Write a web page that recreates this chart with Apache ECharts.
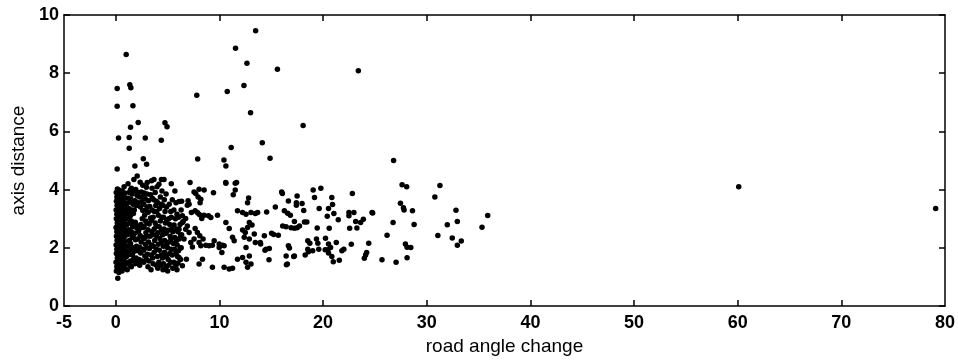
<!DOCTYPE html>
<html>
<head>
<meta charset="utf-8">
<script src="https://cdn.jsdelivr.net/npm/echarts@6/dist/echarts.min.js"></script>
<style>html,body{margin:0;padding:0;background:#fff;}#c{width:958px;height:361px;}</style>
</head>
<body>
<div id="c"></div>
<script>
// x tick labels / tick marks
const xTickLabels = [-5, 0, 10, 20, 30, 40, 50, 60, 70, 80];
const xTickMarks = [0, 10, 20, 30, 40, 50, 60, 70];
const yTicks = [0, 2, 4, 6, 8, 10];

// dense core: road angle change 0..6.5
const coreCluster = [
[0.05,1.2],[0.1,1.35],[0.02,1.5],[0.15,1.65],[0.05,1.8],[0.1,1.95],[0.03,2.1],[0.12,2.25],[0.06,2.4],[0.1,2.55],[0.02,2.7],[0.14,2.85],[0.05,3.0],[0.1,3.15],[0.03,3.3],[0.12,3.45],[0.06,3.6],[0.1,3.75],[0.04,3.9],[0.15,4.02],
[0.3,1.15],[0.35,1.3],[0.25,1.45],[0.4,1.6],[0.3,1.75],[0.38,1.9],[0.28,2.05],[0.42,2.2],[0.3,2.35],[0.36,2.5],[0.27,2.65],[0.4,2.8],[0.32,2.95],[0.37,3.1],[0.26,3.25],[0.41,3.4],[0.3,3.55],[0.35,3.7],[0.28,3.85],[0.33,3.98],[0.19,0.95],
[0.6,1.2],[0.55,1.4],[0.65,1.55],[0.58,1.7],[0.62,1.85],[0.55,2.0],[0.68,2.15],[0.6,2.3],[0.52,2.45],[0.66,2.6],[0.58,2.75],[0.63,2.9],[0.55,3.05],[0.67,3.2],[0.6,3.35],[0.54,3.5],[0.65,3.65],[0.58,3.8],[0.62,3.95],
[0.85,1.3],[0.9,1.45],[0.8,1.62],[0.92,1.78],[0.85,1.92],[0.78,2.08],[0.9,2.22],[0.83,2.38],[0.95,2.52],[0.8,2.68],[0.88,2.82],[0.93,2.98],[0.82,3.12],[0.9,3.28],[0.85,3.42],[0.78,3.58],[0.92,3.72],[0.86,3.88],[0.8,4.1],
[1.1,1.25],[1.2,1.5],[1.05,1.7],[1.25,1.88],[1.15,2.05],[1.3,2.25],[1.1,2.45],[1.22,2.62],[1.08,2.8],[1.28,2.98],[1.15,3.15],[1.25,3.35],[1.1,3.52],[1.2,3.7],[1.3,3.9],[1.18,4.2],
[1.5,1.35],[1.45,1.55],[1.6,1.75],[1.52,1.95],[1.42,2.15],[1.58,2.35],[1.48,2.55],[1.62,2.72],[1.5,2.92],[1.4,3.1],[1.55,3.3],[1.65,3.5],[1.45,3.68],[1.58,3.85],[1.5,4.05],[1.74,4.35],
[1.85,1.45],[1.95,1.65],[1.8,1.88],[2.0,2.05],[1.9,2.28],[1.82,2.5],[2.02,2.68],[1.88,2.88],[1.78,3.3],[1.98,3.45],[1.85,3.62],[2.05,3.8],[1.92,4.0],[2.06,4.47],
[2.3,1.4],[2.25,1.6],[2.4,1.82],[2.3,2.02],[2.45,2.2],[2.35,2.42],[2.22,2.62],[2.42,2.8],[2.55,3.0],[2.38,3.4],[2.5,3.58],[2.3,3.75],[2.45,3.92],[2.6,4.15],[2.35,4.25],
[2.7,1.5],[2.8,1.72],[2.68,1.92],[2.85,2.12],[2.75,2.32],[2.9,2.52],[2.72,2.72],[2.88,2.92],[2.78,3.12],[2.92,3.3],[2.7,3.5],[2.85,3.68],[2.75,3.88],[2.95,4.08],
[3.1,1.35],[3.2,1.55],[3.05,1.78],[3.25,1.98],[3.15,2.2],[3.3,2.4],[3.1,2.62],[3.22,2.82],[3.35,3.02],[3.12,3.22],[3.28,3.42],[3.15,3.62],[3.35,3.82],[3.03,4.24],[3.45,4.3],
[3.6,1.45],[3.55,1.65],[3.7,1.85],[3.62,2.05],[3.75,2.25],[3.58,2.45],[3.7,2.65],[3.8,2.85],[3.6,3.05],[3.72,3.25],[3.85,3.45],[3.65,3.65],[3.8,3.9],[3.68,4.35],
[4.05,1.3],[4.15,1.5],[4.0,1.7],[4.2,1.92],[4.1,2.12],[4.25,2.32],[4.05,2.52],[4.18,2.72],[4.3,2.92],[4.1,3.12],[4.22,3.35],[4.05,3.55],[4.3,3.75],[4.16,4.18],[4.4,4.35],
[4.55,1.25],[4.6,1.45],[4.5,1.65],[4.7,1.85],[4.58,2.05],[4.72,2.25],[4.52,2.45],[4.65,2.65],[4.78,2.85],[4.6,3.05],[4.75,3.25],[4.55,3.45],[4.68,3.65],[4.85,3.85],[4.65,4.35],
[5.0,1.2],[5.1,1.4],[5.05,1.6],[5.2,1.8],[5.0,2.0],[5.15,2.2],[5.25,2.4],[5.05,2.6],[5.2,2.8],[5.1,3.0],[5.3,3.25],[5.15,3.5],[5.35,4.2],
[5.5,1.3],[5.6,1.5],[5.45,1.75],[5.65,1.95],[5.55,2.15],[5.7,2.35],[5.5,2.55],[5.62,2.78],[5.75,3.0],[5.6,3.3],[5.8,3.55],[5.7,3.95],
[5.9,1.25],[6.0,1.48],[5.95,1.7],[6.05,1.9],[5.92,2.1],[6.1,2.3],[5.98,2.55],[6.2,2.8],[6.05,3.05],[6.3,3.3],[6.35,3.6]
];

// extra fill within the dense core
const coreFill = [
[1.35,1.4],[1.32,1.78],[1.38,2.12],[1.35,2.5],[1.36,2.85],[1.32,3.22],[1.38,3.6],[1.4,3.98],
[1.7,1.6],[1.72,2.0],[1.68,2.42],[1.75,2.8],[1.7,3.18],[1.72,3.55],[1.68,3.95],
[2.12,1.5],[2.15,1.9],[2.1,2.3],[2.18,2.55],[2.15,3.55],[2.12,3.9],[2.15,2.75],
[2.55,1.55],[2.6,1.95],[2.58,2.35],[2.62,2.7],[2.6,3.28],[2.58,3.75],
[2.98,1.6],[3.0,2.0],[2.98,2.4],[3.0,2.85],[3.02,3.4],[3.0,3.85],
[3.4,1.25],[3.42,1.75],[3.45,2.1],[3.48,2.55],[3.45,2.95],[3.5,3.3],[3.52,3.7],[3.5,4.05],
[3.9,1.4],[3.92,1.95],[3.95,2.4],[3.9,2.75],[3.95,3.25],[3.92,3.6],[3.98,4.1],
[4.35,1.4],[4.38,1.75],[4.4,2.2],[4.42,2.6],[4.45,3.05],[4.4,3.5],[4.45,3.95],
[4.85,1.35],[4.88,1.7],[4.9,2.1],[4.85,2.5],[4.92,2.95],[4.9,3.4],
[5.3,1.5],[5.35,1.95],[5.32,2.3],[5.4,2.65],[5.35,3.05],[5.45,3.65],
[5.8,1.4],[5.82,1.85],[5.85,2.25],[5.88,2.65],[5.9,3.15],
[6.25,1.6],[6.3,2.0],[6.35,2.45],[6.5,2.9]
];

// sparser band: road angle change 6..16
const midCluster = [
[7.16,4.24],[7.55,3.92],[7.71,3.87],[8.03,4.01],[8.52,3.99],[9.42,3.89],[10.62,4.22],[11.52,4.22],[11.33,3.82],[11.52,3.99],[12.81,3.71],[12.71,3.55],
[6.1,3.59],[6.97,3.62],[7.07,3.5],[6.9,3.46],[7.94,3.75],[8.2,3.67],[8.13,3.55],
[7.29,3.21],[7.65,3.27],[7.87,3.21],[8.03,3.15],[8.23,3.1],[8.29,3.01],[8.52,3.12],[8.94,3.1],[9.17,3.04],[9.81,3.12],[11.74,3.27],
[12.23,3.21],[12.56,3.15],[13.04,3.21],[13.46,3.18],[12.88,2.87],[13.14,2.78],[12.71,2.7],[10.62,2.87],[10.94,2.66],[12.23,2.61],[12.49,2.53],
[6.42,3.1],[6.74,3.01],[6.42,2.87],[6.9,2.75],[6.74,2.64],[7.07,2.53],[7.65,2.66],[7.87,2.53],[8.1,2.41],[8.42,2.3],[8.03,2.18],[8.68,2.09],[9.0,2.07],[9.32,2.09],
[9.97,2.13],[10.29,2.09],[9.49,2.24],[11.26,2.36],[11.42,2.24],[12.39,2.36],[12.88,2.3],[13.46,2.18],[6.26,2.41],[6.58,2.3],[7.23,2.18],[7.55,2.3],[6.1,2.64],
[6.26,1.99],[7.39,2.03],[8.2,2.07],[9.97,2.01],[10.23,1.84],[10.45,2.07],[12.56,2.01],[12.88,1.72],[6.1,1.67],[6.81,1.61],[6.42,1.38],[8.36,1.61],[8.03,1.44],
[9.32,1.33],[10.45,1.33],[10.94,1.27],[11.26,1.3],[11.74,1.61],[12.23,1.67],[12.56,1.5],[12.71,1.33],[13.04,1.44],
[13.68,3.21],[14.55,3.23],[15.39,3.4],[13.36,2.47],[14.33,2.41],[15.03,2.5],[15.23,2.46],[15.68,2.43],[13.94,2.18],[13.97,2.13],[14.81,1.98],[14.39,1.92],
[14.78,1.59],[14.49,1.95],[10.6,4.24],[11.65,4.24]
];

// outer band: road angle change 16..36
const farCluster = [
[16.0,3.92],[16.07,3.87],[16.65,3.61],[17.49,3.78],[17.42,3.55],[17.42,3.46],[17.97,3.52],[18.13,3.28],[18.2,2.89],[18.43,2.89],
[19.04,3.99],[19.78,4.05],[19.17,3.73],[20.84,3.73],[20.91,3.49],[20.52,3.35],[21.04,3.18],[19.62,3.35],[20.4,3.08],[21.46,2.96],
[22.82,3.87],[22.49,3.21],[22.49,3.1],[22.97,3.21],[23.14,2.9],[23.62,2.87],[23.88,2.98],[22.56,2.67],[23.26,2.68],[24.72,3.21],
[16.26,3.27],[16.58,3.19],[16.84,3.12],[16.1,2.75],[16.43,2.72],[16.91,2.69],[17.23,2.67],[17.49,2.69],[17.72,2.75],[17.23,2.9],
[19.43,2.68],[20.59,2.67],[16.65,2.07],[16.75,1.99],[17.16,1.7],[16.46,1.42],[18.52,2.24],[18.72,2.16],[19.36,2.3],[19.49,2.16],
[18.52,1.95],[19.0,1.9],[18.59,1.86],[18.27,1.75],[19.58,1.95],[20.23,2.33],[20.52,2.13],[20.72,2.01],[20.2,1.93],[20.46,1.93],
[20.84,1.7],[20.98,1.52],[21.56,1.57],[21.27,2.18],[21.81,1.9],[22.0,1.95],[22.72,2.12],[20.52,1.82],[24.1,1.75],[24.2,1.84],
[24.4,2.16],[23.98,1.64],[16.43,1.72],[16.55,1.44],[17.23,1.72],
[27.62,4.17],[28.06,4.1],[31.27,4.14],[30.78,3.75],[27.46,3.53],[27.75,3.38],[27.81,3.3],[28.62,3.27],[24.78,3.2],[26.75,2.87],
[28.78,2.8],[32.82,3.29],[32.95,2.9],[31.98,2.79],[35.88,3.11],[35.33,2.71],[26.17,2.43],[31.07,2.42],[32.46,2.34],[33.33,2.23],
[32.95,2.09],[27.94,2.13],[28.1,2.02],[28.46,2.01],[28.1,1.66],[25.68,1.59],[27.04,1.5]
];

// isolated high / far points
const outliers = [
[1.0,8.64],[0.13,7.47],[1.35,7.6],[1.45,7.5],[0.13,6.86],[1.65,6.88],[1.42,6.14],[2.16,6.31],[4.74,6.3],[4.94,6.16],
[0.26,5.77],[1.29,5.79],[2.84,5.77],[4.39,5.7],[1.29,5.42],[2.65,5.06],[2.97,4.87],[1.84,4.81],[0.13,4.71],
[7.81,7.24],[7.9,5.05],[10.75,7.37],[11.55,8.86],[13.49,9.46],[12.65,8.34],[12.36,7.58],[15.59,8.14],[13.0,6.64],[18.07,6.2],
[14.13,5.61],[14.88,5.08],[11.13,5.45],[10.43,5.02],[10.62,4.81],[23.4,8.08],[26.8,5.0],[60.1,4.1],[79.1,3.35]
];

const FONT = '"Liberation Sans", Arial, Helvetica, sans-serif';
const chart = echarts.init(document.getElementById('c'), null, {renderer: 'canvas'});
const lineStyle = {color: '#000', width: 1.5};
const tickStyle = {show: true, inside: true, length: 6, lineStyle: {color: '#000', width: 1.5}};
const allPoints = coreCluster.concat(coreFill, midCluster, farCluster, outliers);

chart.setOption({
  animation: false,
  backgroundColor: '#fff',
  grid: {left: 64, right: 12, top: 15, bottom: 54},
  xAxis: [{
    type: 'value', min: -5, max: 80, position: 'bottom',
    name: 'road angle change', nameLocation: 'middle', nameGap: 31,
    nameTextStyle: {color: '#000', fontSize: 19, fontFamily: FONT},
    axisLine: {show: true, onZero: false, lineStyle: lineStyle},
    axisTick: Object.assign({}, tickStyle, {customValues: xTickMarks}),
    axisLabel: {customValues: xTickLabels, color: '#000', fontSize: 18, fontWeight: 'bold', fontFamily: FONT, margin: 8},
    splitLine: {show: false}
  }, {
    type: 'value', min: -5, max: 80, position: 'top',
    axisLine: {show: true, onZero: false, lineStyle: lineStyle},
    axisTick: Object.assign({}, tickStyle, {customValues: xTickMarks}),
    axisLabel: {show: false},
    splitLine: {show: false}
  }],
  yAxis: [{
    type: 'value', min: 0, max: 10, interval: 2, position: 'left',
    name: 'axis distance', nameLocation: 'middle', nameGap: 36,
    nameTextStyle: {color: '#000', fontSize: 19, fontFamily: FONT},
    axisLine: {show: true, onZero: false, lineStyle: lineStyle},
    axisTick: tickStyle,
    axisLabel: {color: '#000', fontSize: 18, fontWeight: 'bold', fontFamily: FONT, margin: 5,
      formatter: v => yTicks.indexOf(v) >= 0 ? String(v) : ''},
    splitLine: {show: false}
  }, {
    type: 'value', min: 0, max: 10, interval: 2, position: 'right',
    axisLine: {show: true, onZero: false, lineStyle: lineStyle},
    axisTick: tickStyle,
    axisLabel: {show: false},
    splitLine: {show: false}
  }],
  series: [{
    type: 'scatter',
    xAxisIndex: 0, yAxisIndex: 0,
    data: allPoints,
    symbol: 'circle',
    symbolSize: 5.5,
    itemStyle: {color: '#000', opacity: 1},
    silent: true
  }]
});
</script>
</body>
</html>
